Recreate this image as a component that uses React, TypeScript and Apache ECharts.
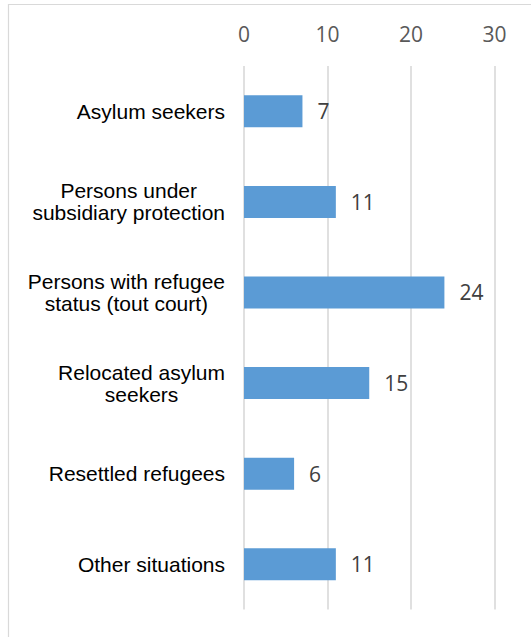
import React, { useEffect, useRef } from "react";
import * as echarts from "echarts";

const categories = [
  "Asylum seekers",
  "Persons under\nsubsidiary protection",
  "Persons with refugee\nstatus (tout court)",
  "Relocated asylum\nseekers",
  "Resettled refugees",
  "Other situations",
];
const values = [7, 11, 24, 15, 6, 11];
const xMin = 0;
const xMax = 30;
const xInterval = 10;

export default function App() {
  const ref = useRef<HTMLDivElement>(null);
  useEffect(() => {
    if (!ref.current) return;
    const chart = echarts.init(ref.current, null, { renderer: "svg" });
    chart.setOption({
      animation: false,
      backgroundColor: "#ffffff",
      graphic: [
        {
          type: "rect",
          shape: { x: 8.5, y: 4.5, width: 600, height: 700 },
          style: { fill: "none", stroke: "#d9d9d9", lineWidth: 1.2 },
          silent: true,
        },
      ],
      grid: {
        left: 244,
        right: 36.5,
        top: 66,
        bottom: 27.5,
        containLabel: false,
        outerBoundsMode: "none",
      },
      xAxis: {
        type: "value",
        position: "top",
        min: xMin,
        max: xMax,
        interval: xInterval,
        axisLine: { show: false },
        axisTick: { show: false },
        splitLine: { show: true, lineStyle: { color: "#d6d6d6", width: 1.5 } },
        axisLabel: {
          color: "#595959",
          fontFamily: "Open Sans",
          fontSize: 21,
          margin: 22,
        },
      },
      yAxis: {
        type: "category",
        inverse: true,
        data: categories,
        axisLine: { show: false },
        axisTick: { show: false },
        splitLine: { show: false },
        axisLabel: {
          margin: 19,
          align: "right",
          fontFamily: "Liberation Sans",
          fontSize: 21,
          lineHeight: 22,
          color: "#000000",
          formatter: (v: string) =>
            v
              .split("\n")
              .map((l) => `{c|${l}}`)
              .join("\n"),
          rich: {
            c: {
              align: "center",
              fontFamily: "Liberation Sans",
              fontSize: 21,
              lineHeight: 22,
              color: "#000000",
            },
          },
        },
      },
      series: [
        {
          type: "bar",
          data: values,
          barWidth: 32,
          itemStyle: { color: "#5B9BD5" },
          label: {
            show: true,
            position: "right",
            distance: 15,
            color: "#404040",
            fontFamily: "Open Sans",
            fontSize: 21,
          },
        },
      ],
    });
    return () => chart.dispose();
  }, []);
  return (
    <div
      ref={ref}
      style={{ position: "fixed", left: 0, top: 0, width: 531, height: 637 }}
    />
  );
}
